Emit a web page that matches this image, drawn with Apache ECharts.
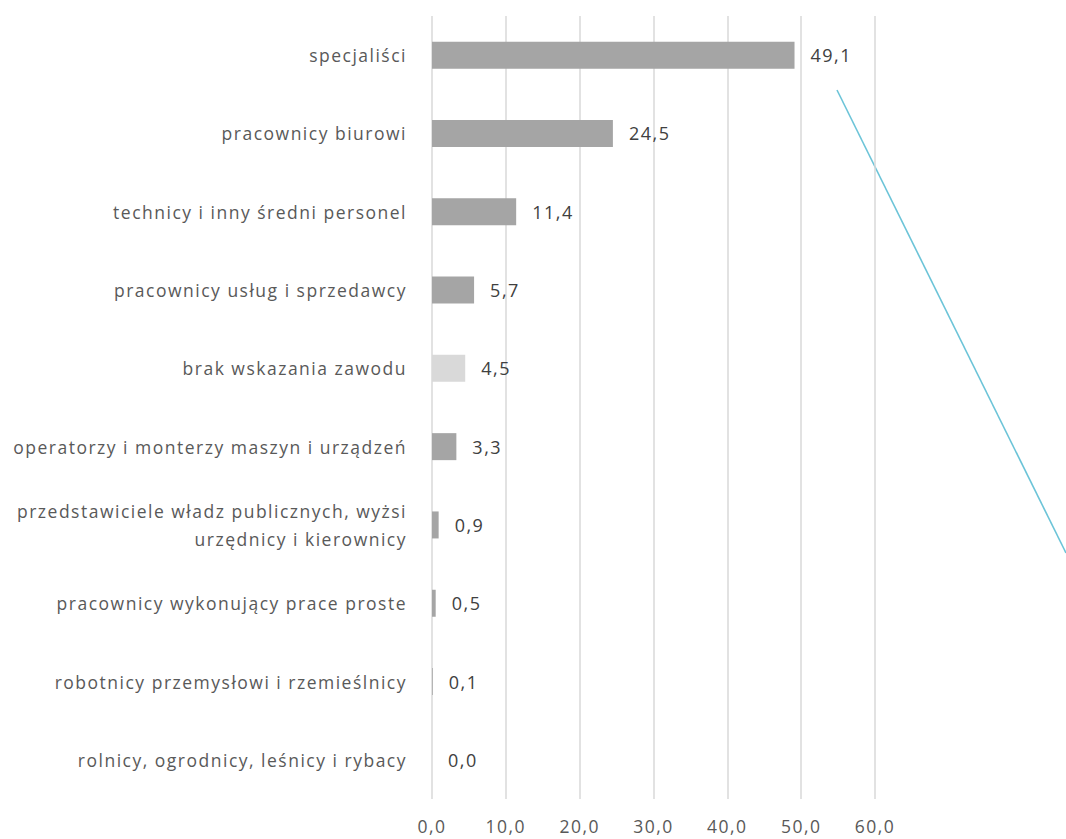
<!DOCTYPE html>
<html><head><meta charset="utf-8">
<script src="https://cdn.jsdelivr.net/npm/echarts@6/dist/echarts.min.js"></script>
<style>html,body{margin:0;padding:0;background:#fff}#c{width:1066px;height:839px}#c text{letter-spacing:1.5px}</style>
</head><body><div id="c"></div>
<script>
const categories = [
  "specjaliści",
  "pracownicy biurowi",
  "technicy i inny średni personel",
  "pracownicy usług i sprzedawcy",
  "brak wskazania zawodu",
  "operatorzy i monterzy maszyn i urządzeń",
  "przedstawiciele władz publicznych, wyżsi\nurzędnicy i kierownicy",
  "pracownicy wykonujący prace proste",
  "robotnicy przemysłowi i rzemieślnicy",
  "rolnicy, ogrodnicy, leśnicy i rybacy"
];
const values = [49.1, 24.5, 11.4, 5.7, 4.5, 3.3, 0.9, 0.5, 0.1, 0.0];
const highlighted = ["brak wskazania zawodu"];
const xTicks = [0, 10, 20, 30, 40, 50, 60];

const fmt = v => v.toFixed(1).replace('.', ',');
const chart = echarts.init(document.getElementById('c'), null, {renderer: 'svg'});
const FONT = 'Open Sans';
chart.setOption({
  animation: false,
  grid: {left: 432, right: 191, top: 16, bottom: 40, containLabel: false},
  xAxis: {
    type: 'value', min: xTicks[0], max: xTicks[xTicks.length - 1], interval: 10,
    axisLine: {show: false}, axisTick: {show: false},
    splitLine: {show: true, lineStyle: {color: '#d9d9d9', width: 1.5}},
    axisLabel: {formatter: v => fmt(v), color: '#595959', fontSize: 17.5, fontFamily: FONT, margin: 18}
  },
  yAxis: {
    type: 'category', data: categories, inverse: true,
    axisLine: {show: false}, axisTick: {show: false},
    axisLabel: {color: '#595959', fontSize: 17.5, fontFamily: FONT, margin: 25, align: 'right', lineHeight: 28}
  },
  series: [{
    type: 'bar', barWidth: 27,
    data: values.map((v, i) => ({value: v, itemStyle: {color: highlighted.includes(categories[i]) ? '#d9d9d9' : '#a5a5a5'}})),
    label: {show: true, position: 'right', distance: 16, formatter: p => fmt(p.value), color: '#404040', fontSize: 18, fontFamily: FONT}
  }],
  graphic: [{
    type: 'line', shape: {x1: 837, y1: 90, x2: 1066, y2: 553},
    style: {stroke: '#6cc4d8', lineWidth: 1.6}
  }]
});
</script></body></html>
